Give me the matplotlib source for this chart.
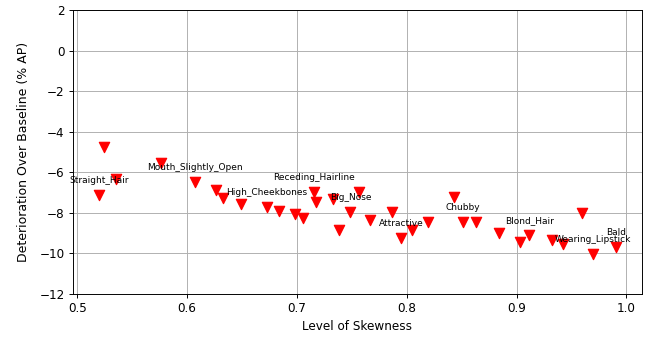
import matplotlib
matplotlib.use("Agg")
import matplotlib.pyplot as plt

# skewness of each attribute vs drop in AP relative to the baseline
skewness = [0.5239, 0.5352, 0.5197, 0.5764, 0.6073, 0.6264, 0.6330, 0.6488,
            0.6725, 0.6836, 0.6982, 0.7052, 0.7152, 0.7170, 0.7330, 0.7382,
            0.7488, 0.7561, 0.7670, 0.7870, 0.7952, 0.8052, 0.8197, 0.8434,
            0.8515, 0.8634, 0.8839, 0.9036, 0.9118, 0.9325, 0.9427, 0.9600,
            0.9700, 0.9906]
deterioration = [-4.74, -6.33, -7.13, -5.55, -6.49, -6.87, -7.25, -7.56,
                 -7.72, -7.91, -8.05, -8.24, -6.98, -7.46, -7.33, -8.84,
                 -7.94, -6.98, -8.36, -7.94, -9.22, -8.84, -8.43, -7.20,
                 -8.43, -8.43, -9.00, -9.42, -9.12, -9.33, -9.55, -8.02,
                 -10.02, -9.69]
labels = ["", "", "Straight_Hair", "", "Mouth_Slightly_Open", "", "", "",
          "High_Cheekbones", "", "", "", "Receding_Hairline", "", "", "",
          "Big_Nose", "", "", "", "Attractive", "", "", "",
          "Chubby", "", "", "", "Blond_Hair", "", "", "",
          "Wearing_Lipstick", "Bald"]

dpi = 86
fig, ax = plt.subplots(figsize=(647 / dpi, 337 / dpi), dpi=dpi)
fig.subplots_adjust(left=0.113, right=0.992, top=0.970, bottom=0.128)

ax.scatter(skewness, deterioration, marker="v", color="red", s=75, zorder=3)
for x, y, name in zip(skewness, deterioration, labels):
    if name:
        ax.annotate(name, (x, y), textcoords="offset points", xytext=(0, 10),
                    ha="center", fontsize=7.5)

ax.set_ylim(-12, 2)
ax.set_xlabel("Level of Skewness")
ax.set_ylabel("Deterioration Over Baseline (% AP)", fontsize=10.5, labelpad=8)
ax.grid(True)

fig.savefig("out.png", dpi=dpi)
